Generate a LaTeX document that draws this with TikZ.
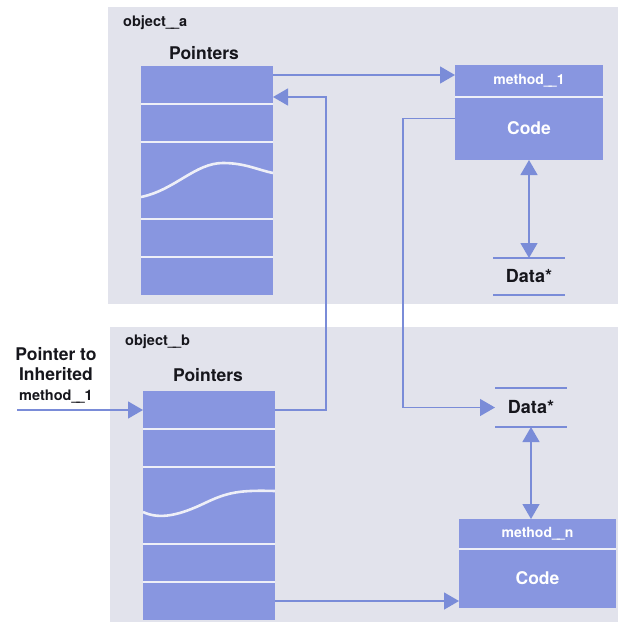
\documentclass[tikz,border=0pt]{standalone}
\usepackage{fontspec}
\setmainfont{TeX Gyre Heros}
\usetikzlibrary{arrows.meta,positioning}
\definecolor{panel}{RGB}{226,227,236}
\definecolor{cell}{RGB}{136,150,224}
\definecolor{wire}{RGB}{122,140,216}
\definecolor{rule}{RGB}{238,239,247}
\definecolor{ink}{RGB}{22,22,28}
\newcommand{\lus}{\_\kern-.2em\_}
\tikzset{
  slot/.style={fill=cell, inner sep=0pt, outer sep=0pt, minimum width=132pt, minimum height=38pt},
  hdbox/.style={fill=cell, inner sep=0pt, outer sep=0pt, text=white,
              font=\fontsize{14}{16}\selectfont\bfseries},
  codebox/.style={fill=cell, inner sep=0pt, outer sep=0pt, text=white,
              font=\fontsize{17.5}{20}\selectfont\bfseries},
  store/.style={inner sep=0pt, outer sep=0pt, minimum width=72pt, text=ink,
              font=\fontsize{18}{20}\selectfont\bfseries},
  objlbl/.style={text=ink, inner sep=0pt, anchor=west, font=\fontsize{14.5}{16}\selectfont\bfseries},
  ptrlbl/.style={text=ink, inner sep=0pt, font=\fontsize{17.5}{20}\selectfont\bfseries},
  sep/.style={draw=rule, line width=1.8pt},
  bar/.style={draw=wire, line width=2.2pt},
  flow/.style={-{Triangle[length=15pt,width=17pt]}, wire, line width=1.4pt},
  dbl/.style={{Triangle[length=15pt,width=17pt]}-{Triangle[length=15pt,width=17pt]}, wire, line width=1.4pt},
}
\begin{document}
\begin{tikzpicture}[x=1pt, y=-1pt]
    \useasboundingbox (0,0) rectangle (618,622);
    \fill[panel] (108,7) rectangle (618,304);
    \fill[panel] (110,327) rectangle (618,622);
    % object a
    \node[objlbl] (obja) at (123,23) {object\lus a};
    \node[ptrlbl] (ptra) at (204,53) {Pointers};
    \node[slot] (pa1) at (207,85) {};
    \node[slot, below=0pt of pa1] (pa2) {};
    \node[slot, minimum height=77pt, below=0pt of pa2] (pa3) {};
    \node[slot, below=0pt of pa3] (pa4) {};
    \node[slot, below=0pt of pa4] (pa5) {};
    \draw[sep] (pa1.south west) -- (pa1.south east) (pa2.south west) -- (pa2.south east)
               (pa3.south west) -- (pa3.south east) (pa4.south west) -- (pa4.south east);
    \draw[rule, line width=2.6pt] (141,197) .. controls (175,190) and (195,163) .. (223,163)
               .. controls (245,163) and (258,170) .. (273,173);
    % object b
    \node[objlbl] (objb) at (125,342) {object\lus b};
    \node[ptrlbl] (ptrb) at (208,375) {Pointers};
    \node[slot] (pb1) at (209,410) {};
    \node[slot, below=0pt of pb1] (pb2) {};
    \node[slot, minimum height=77pt, below=0pt of pb2] (pb3) {};
    \node[slot, below=0pt of pb3] (pb4) {};
    \node[slot, below=0pt of pb4] (pb5) {};
    \draw[sep] (pb1.south west) -- (pb1.south east) (pb2.south west) -- (pb2.south east)
               (pb3.south west) -- (pb3.south east) (pb4.south west) -- (pb4.south east);
    \draw[rule, line width=2.6pt] (143,512) .. controls (160,520) and (180,515) .. (205,503)
               .. controls (228,492) and (240,490) .. (275,491);
    % methods and data
    \node[hdbox, minimum width=148pt, minimum height=32pt] (hd1) at (529,81) {method\lus 1};
    \node[codebox, minimum width=148pt, minimum height=63pt, below=0pt of hd1] (cd1) {Code};
    \draw[sep] (hd1.south west) -- (hd1.south east);
    \node[store, minimum height=37pt] (da) at (529,276.5) {Data*};
    \draw[bar] (da.north west) -- (da.north east) (da.south west) -- (da.south east);
    \node[store, minimum height=39pt] (db) at (531,407.5) {Data*};
    \draw[bar] (db.north west) -- (db.north east) (db.south west) -- (db.south east);
    \node[hdbox, minimum width=157pt, minimum height=30pt] (hdn) at (537.5,534) {method\lus n};
    \node[codebox, minimum width=157pt, minimum height=59pt, below=0pt of hdn] (cdn) {Code};
    \draw[sep] (hdn.south west) -- (hdn.south east);
    % inherited pointer
    \node[ptrlbl, align=center] (inh) at (56,375)
      {Pointer to\\Inherited\\{\fontsize{14.5}{20}\selectfont method\lus 1}};
    \coordinate (inhsrc) at (17,410);
    % connectors
    \draw[flow] ([yshift=10pt]pa1.east) -- ([yshift=6pt]hd1.west);
    \draw[flow] (pb1.east) -- ++(51,0) |- ([yshift=-12pt]pa1.east);
    \draw[flow] ([yshift=10pt]cd1.west) -- ++(-52,0) |- (db.west);
    \draw[dbl] (cd1.south) -- (da.north);
    \draw[dbl] (db.south) -- (db.south |- hdn.north);
    \draw[flow] (pb5.east) -- (pb5.east -| cdn.west);
    \draw[flow] (inhsrc) -- (pb1.west);
\end{tikzpicture}
\end{document}
